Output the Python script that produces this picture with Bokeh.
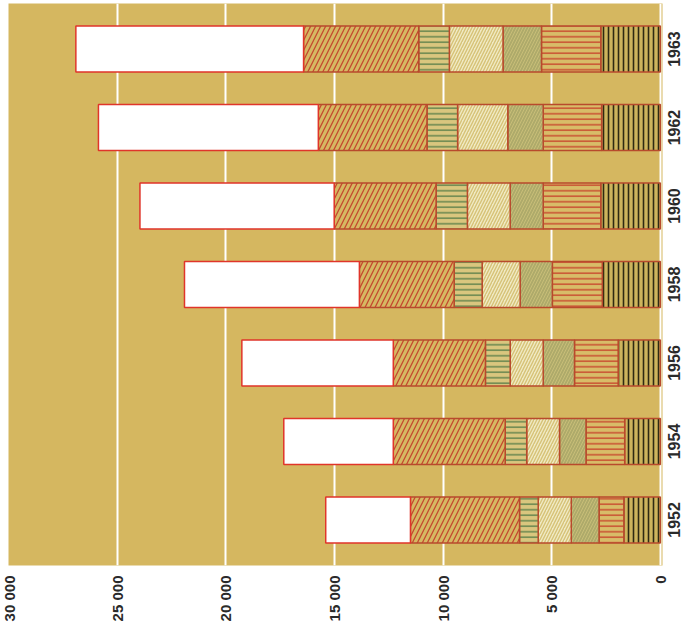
import math
from bokeh.plotting import figure
from bokeh.models import Range1d, FixedTicker, ColumnDataSource
from bokeh.embed import file_html
from bokeh.resources import INLINE

years = ["1952", "1954", "1956", "1958", "1960", "1962", "1963"]

# segment sizes, stacked outward from 0
seg_a = [1680, 1640, 1940, 2670, 2740, 2700, 2740]    # dark vertical hatch
seg_b = [1140, 1780, 2010, 2300, 2650, 2690, 2730]    # red horizontal hatch
seg_c = [1280, 1220, 1440, 1480, 1520, 1630, 1770]    # olive diagonal
seg_d = [1520, 1510, 1520, 1750, 1970, 2310, 2470]    # light diagonal
seg_e = [860, 990, 1140, 1290, 1440, 1410, 1410]      # green horizontal hatch
seg_f = [5020, 5150, 4240, 4360, 4690, 5000, 5300]    # red diagonal
seg_g = [3900, 5040, 6970, 8050, 8940, 10120, 10480]  # white

tick_values = [0, 5000, 10000, 15000, 20000, 25000, 30000]
tick_labels = ["0", "5 000", "10 000", "15 000", "20 000", "25 000", "30 000"]

n = len(years)
pos = [i + 0.5 for i in range(n)]   # category slots, in list order
source = ColumnDataSource(dict(pos=pos, a=seg_a, b=seg_b, c=seg_c, d=seg_d,
                               e=seg_e, f=seg_f, g=seg_g))

PAD = 0.023
half = n * PAD / 2
p = figure(width=689, height=627, output_backend="svg", toolbar_location=None,
           y_range=Range1d(-half, n + half),
           x_range=Range1d(30000, -100), y_axis_location="right",
           min_border_left=8, min_border_top=3, min_border_right=25,
           min_border_bottom=62)

p.background_fill_color = "#D5B760"
p.border_fill_color = "white"
p.outline_line_color = None

stackers = ["a", "b", "c", "d", "e", "f", "g"]
p.hbar_stack(stackers, y="pos", height=0.586, source=source,
             fill_color=["#CDB45C", "#D8BC68", "#AEAA6A", "#F0EAC4", "#D9C67E", "#D6B862", "#FFFFFF"],
             hatch_pattern=["|", "-", "/", "/", "-", "/", " "],
             hatch_color=["#2E2A12", "#C8482E", "#C8BE78", "#D6C276", "#6E8A52", "#C4482E", "#FFFFFF"],
             hatch_scale=[5, 5.5, 6, 6, 5.5, 10, 12],
             hatch_weight=[1.6, 1.4, 1.0, 1.4, 1.6, 1.3, 1],
             line_color=["#B84A2C", "#B84A2C", "#B84A2C", "#B84A2C", "#B84A2C", "#B84A2C", "#E0352A"],
             line_width=1.5)

ticker = FixedTicker(ticks=tick_values)
p.xaxis.ticker = ticker
p.xaxis.major_label_overrides = {v: l for v, l in zip(tick_values, tick_labels)}
p.xgrid.ticker = ticker
p.xgrid.grid_line_color = "white"
p.xgrid.grid_line_width = 2
p.ygrid.grid_line_color = None

# rotated year labels start at their tick; shift ticks by half a label length
shift = 0.227
year_ticks = [v - shift for v in pos]
yax = p.yaxis[0]
yax.ticker = FixedTicker(ticks=year_ticks)
yax.major_label_overrides = {v: y for v, y in zip(year_ticks, years)}

for ax in (p.xaxis[0], yax):
    ax.axis_line_color = None
    ax.major_tick_line_color = None
    ax.minor_tick_line_color = None
    ax.major_label_text_font = "Liberation Sans"
    ax.major_label_text_font_style = "bold"
    ax.major_label_text_color = "#2A2A2A"
    ax.major_label_orientation = math.pi / 2

p.xaxis.major_label_text_font_size = "15px"
p.xaxis.major_label_standoff = 4
yax.major_label_text_font_size = "16px"
yax.major_label_standoff = 6

open("out.html", "w").write(file_html(p, INLINE))
